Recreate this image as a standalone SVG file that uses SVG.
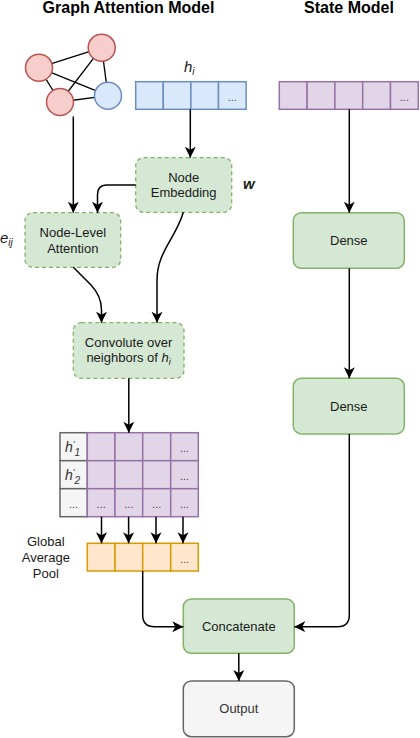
<svg xmlns="http://www.w3.org/2000/svg" width="420" height="738" viewBox="0 0 420 738">
<style>
text{font-family:"Liberation Sans",Arial,sans-serif;fill:#1a1a1a}
.title{font-size:16px;font-weight:bold;text-anchor:middle;fill:#000}
.lbl{font-size:13px;text-anchor:middle}
.dots{font-size:11px;text-anchor:middle;fill:#444}
.gat{fill:#d5e8d4;stroke:#82b366;stroke-width:1.3;stroke-dasharray:4 3}
.green{fill:#d5e8d4;stroke:#82b366;stroke-width:1.5}
.gray{fill:#f5f5f5;stroke:#666666;stroke-width:1.5}
.blue{fill:#dae8fc;stroke:#6c8ebf;stroke-width:1.5}
.red{fill:#f8cecc;stroke:#b85450;stroke-width:1.5}
.purple{fill:#e1d5e7;stroke:#9673a6;stroke-width:1.5}
.orange{fill:#ffe6cc;stroke:#d79b00;stroke-width:1.5}
.edge{fill:none;stroke:#000;stroke-width:1.5}
.gedge{stroke:#000;stroke-width:1.3}
.it{font-style:italic}
</style>
<defs>
<marker id="arr" viewBox="0 0 12 12" refX="11" refY="6" markerWidth="12" markerHeight="12" markerUnits="userSpaceOnUse" orient="auto">
<path d="M0,0.5 L11,6 L0,11.5 L3,6 z" fill="#000"/>
</marker>
</defs>

<text class="title" x="128.5" y="12.5">Graph Attention Model</text>
<text class="title" x="349" y="12.5">State Model</text>

<g id="graph">
<line class="gedge" x1="39" y1="67.7" x2="101.7" y2="47.7"/>
<line class="gedge" x1="39" y1="67.7" x2="108" y2="95.7"/>
<line class="gedge" x1="39" y1="67.7" x2="60" y2="102"/>
<line class="gedge" x1="60" y1="102" x2="101.7" y2="47.7"/>
<line class="gedge" x1="60" y1="102" x2="108" y2="95.7"/>
<line class="gedge" x1="101.7" y1="47.7" x2="108" y2="95.7"/>
<circle class="red" cx="101.7" cy="47.7" r="13.5"/>
<circle class="red" cx="39" cy="67.7" r="13.5"/>
<circle class="red" cx="60" cy="102" r="13.5"/>
<circle class="blue" cx="108" cy="95.7" r="13.5"/>
</g>

<g id="hi-vector">
<rect class="blue" x="135.7" y="81.7" width="27.6" height="27.6"/>
<rect class="blue" x="163.3" y="81.7" width="27.6" height="27.6"/>
<rect class="blue" x="190.9" y="81.7" width="27.6" height="27.6"/>
<rect class="blue" x="218.5" y="81.7" width="27.6" height="27.6"/>
<text class="dots" x="232.3" y="101">...</text>
<text x="184" y="72" class="it" style="font-size:15px">h<tspan dy="3" style="font-size:10px">i</tspan></text>
</g>

<g id="state-vector">
<rect class="purple" x="279.3" y="81.7" width="27.8" height="27.6"/>
<rect class="purple" x="307.1" y="81.7" width="27.8" height="27.6"/>
<rect class="purple" x="334.9" y="81.7" width="27.8" height="27.6"/>
<rect class="purple" x="362.7" y="81.7" width="27.8" height="27.6"/>
<rect class="purple" x="390.5" y="81.7" width="27.8" height="27.6"/>
<text class="dots" x="404.4" y="101">...</text>
</g>

<g id="node-embedding">
<rect class="gat" x="135.7" y="157.7" width="96" height="54.6" rx="8"/>
<text class="lbl" x="183.7" y="181.7">Node</text>
<text class="lbl" x="183.7" y="196.7">Embedding</text>
</g>
<text id="w-label" x="243" y="189" style="font-size:15px;font-weight:bold;font-style:italic">w</text>

<g id="node-level-attention">
<rect class="gat" x="25" y="212.7" width="95.7" height="54.6" rx="8"/>
<text class="lbl" x="72.8" y="237.3">Node-Level</text>
<text class="lbl" x="72.8" y="252.7">Attention</text>
</g>
<text id="eij-label" x="0" y="243" class="it" style="font-size:15px">e<tspan dy="3" style="font-size:10px">ij</tspan></text>

<g id="convolute">
<rect class="gat" x="73.3" y="322.7" width="110.7" height="55.6" rx="8"/>
<text class="lbl" x="128.6" y="346.7">Convolute over</text>
<text class="lbl" x="128.6" y="361.7">neighbors of <tspan class="it">h</tspan><tspan dy="3" class="it" style="font-size:9px">i</tspan></text>
</g>

<g id="matrix">
<rect class="gray" x="60" y="432.7" width="27.3" height="28"/>
<rect class="gray" x="60" y="460.7" width="27.3" height="28"/>
<rect class="gray" x="60" y="488.7" width="27.3" height="28"/>
<rect class="purple" x="87.3" y="432.7" width="27.7" height="28"/>
<rect class="purple" x="115" y="432.7" width="27.7" height="28"/>
<rect class="purple" x="142.7" y="432.7" width="28" height="28"/>
<rect class="purple" x="170.7" y="432.7" width="27.6" height="28"/>
<rect class="purple" x="87.3" y="460.7" width="27.7" height="28"/>
<rect class="purple" x="115" y="460.7" width="27.7" height="28"/>
<rect class="purple" x="142.7" y="460.7" width="28" height="28"/>
<rect class="purple" x="170.7" y="460.7" width="27.6" height="28"/>
<rect class="purple" x="87.3" y="488.7" width="27.7" height="28"/>
<rect class="purple" x="115" y="488.7" width="27.7" height="28"/>
<rect class="purple" x="142.7" y="488.7" width="28" height="28"/>
<rect class="purple" x="170.7" y="488.7" width="27.6" height="28"/>
<text x="65" y="451.7" class="it" style="font-size:14px;fill:#333">h<tspan dy="-5" style="font-size:9px">'</tspan><tspan dy="9" style="font-size:10px">1</tspan></text>
<text x="65" y="479.7" class="it" style="font-size:14px;fill:#333">h<tspan dy="-5" style="font-size:9px">'</tspan><tspan dy="9" style="font-size:10px">2</tspan></text>
<text class="dots" x="73.6" y="508">...</text>
<text class="dots" x="184.5" y="452">...</text>
<text class="dots" x="184.5" y="480">...</text>
<text class="dots" x="101.2" y="508">...</text>
<text class="dots" x="128.9" y="508">...</text>
<text class="dots" x="156.7" y="508">...</text>
<text class="dots" x="184.5" y="508">...</text>
</g>

<g id="pool">
<rect class="orange" x="87.3" y="543.3" width="27.7" height="27.7"/>
<rect class="orange" x="115" y="543.3" width="27.7" height="27.7"/>
<rect class="orange" x="142.7" y="543.3" width="28" height="27.7"/>
<rect class="orange" x="170.7" y="543.3" width="27.6" height="27.7"/>
<text class="dots" x="184.5" y="563">...</text>
</g>
<g id="pool-label">
<text class="lbl" x="45.8" y="545.7">Global</text>
<text class="lbl" x="45.8" y="561.7">Average</text>
<text class="lbl" x="45.8" y="577.7">Pool</text>
</g>

<g id="dense1">
<rect class="green" x="293.3" y="212.7" width="111" height="55.6" rx="8"/>
<text class="lbl" x="348.8" y="245">Dense</text>
</g>
<g id="dense2">
<rect class="green" x="293.3" y="378.3" width="111" height="55.6" rx="8"/>
<text class="lbl" x="348.8" y="410.7">Dense</text>
</g>

<g id="concatenate">
<rect class="green" x="183.3" y="599" width="111" height="54.3" rx="8"/>
<text class="lbl" x="238.8" y="630.7">Concatenate</text>
</g>
<g id="output">
<rect class="gray" x="183.3" y="681" width="111" height="55.7" rx="8"/>
<text class="lbl" x="238.8" y="713.3" style="fill:#333">Output</text>
</g>

<g id="connectors">
<path class="edge" d="M73.3,116.5 V212.7" marker-end="url(#arr)"/>
<path class="edge" d="M190.3,109.3 V157.7" marker-end="url(#arr)"/>
<path class="edge" d="M135.7,185 H107 Q97.5,185 97.5,195 V212.7" marker-end="url(#arr)"/>
<path class="edge" d="M183.3,212.3 C176,238 157,252 157,280 V322.7" marker-end="url(#arr)"/>
<path class="edge" d="M73.3,267.3 L91,285 Q101.5,296 101.5,310 V322.7" marker-end="url(#arr)"/>
<path class="edge" d="M128.8,378.3 V432.7" marker-end="url(#arr)"/>
<path class="edge" d="M101.5,516.7 V543.3" marker-end="url(#arr)"/>
<path class="edge" d="M128.6,516.7 V543.3" marker-end="url(#arr)"/>
<path class="edge" d="M156,516.7 V543.3" marker-end="url(#arr)"/>
<path class="edge" d="M183,516.7 V543.3" marker-end="url(#arr)"/>
<path class="edge" d="M142.7,571 V615 Q142.7,626.7 154.5,626.7 H183.3" marker-end="url(#arr)"/>
<path class="edge" d="M349.3,109.3 V212.7" marker-end="url(#arr)"/>
<path class="edge" d="M349.3,268.3 V378.3" marker-end="url(#arr)"/>
<path class="edge" d="M349.3,433.9 V615 Q349.3,626.7 337.5,626.7 H294.3" marker-end="url(#arr)"/>
<path class="edge" d="M238.8,653.3 V681" marker-end="url(#arr)"/>
</g>
</svg>
